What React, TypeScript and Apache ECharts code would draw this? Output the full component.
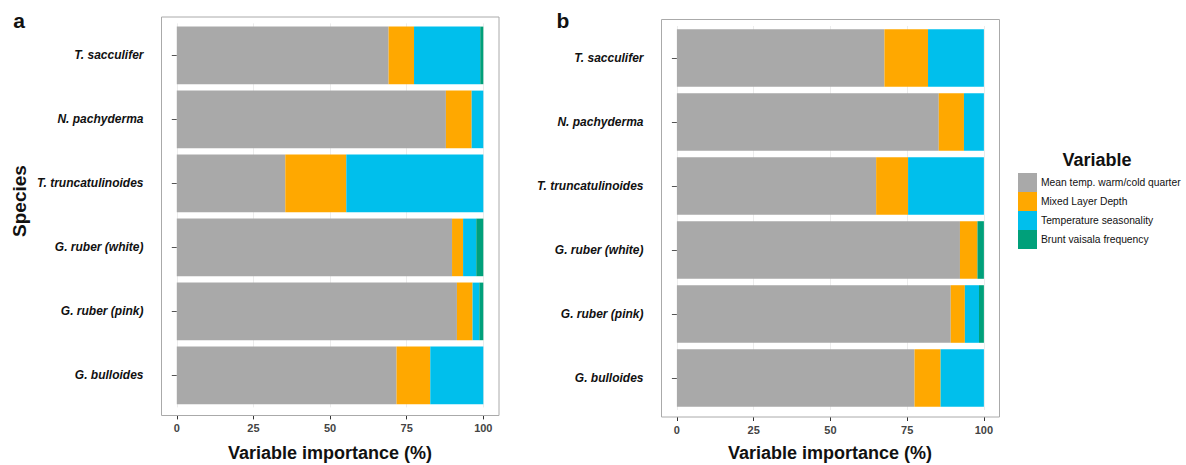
import React, { useEffect, useRef } from "react";
import * as echarts from "echarts";

const species = ["T. sacculifer", "N. pachyderma", "T. truncatulinoides", "G. ruber (white)", "G. ruber (pink)", "G. bulloides"];
const variables = ["Mean temp. warm/cold quarter", "Mixed Layer Depth", "Temperature seasonality", "Brunt vaisala frequency"];
const colors = ["#a9a9a9", "#ffa800", "#00bfec", "#00a07a"];
const xTicks = [0, 25, 50, 75, 100];

// panel a
const aMean = [69.1, 87.8, 35.4, 89.8, 91.4, 71.7];
const aMld = [8.3, 8.4, 19.9, 3.6, 5.1, 11.0];
const aTs = [21.6, 3.8, 44.7, 4.3, 2.2, 17.3];
const aBv = [1.0, 0, 0, 2.3, 1.3, 0];
// panel b
const bMean = [67.6, 85.3, 64.9, 92.2, 89.2, 77.4];
const bMld = [14.2, 8.2, 10.4, 5.7, 4.6, 8.5];
const bTs = [18.2, 6.5, 24.7, 0, 4.6, 14.1];
const bBv = [0, 0, 0, 2.1, 1.6, 0];

const FONT = "'Liberation Sans', Arial, Helvetica, sans-serif";

export default function App() {
  const ref = useRef<HTMLDivElement>(null);
  useEffect(() => {
    if (!ref.current) return;
    const chart = echarts.init(ref.current, null, { renderer: "svg" });
    const panels = [
      { grid: { left: 176.8, top: 23.4, width: 306.5, height: 384 }, rect: { x: 161.5, y: 17, width: 337.5, height: 398.5 }, xOff: 8, data: [aMean, aMld, aTs, aBv] },
      { grid: { left: 676.9, top: 26, width: 307, height: 384 }, rect: { x: 661.5, y: 19.5, width: 338, height: 397.5 }, xOff: 7, data: [bMean, bMld, bTs, bBv] },
    ];
    const series: any[] = [];
    panels.forEach((p, pi) => {
      p.data.forEach((vals, vi) => {
        series.push({
          type: "bar",
          name: variables[vi],
          stack: "s" + pi,
          xAxisIndex: pi,
          yAxisIndex: pi,
          data: vals,
          barCategoryGap: "10%",
          itemStyle: { color: colors[vi] },
        });
      });
    });
    chart.setOption({
      animation: false,
      grid: panels.map((p) => ({ ...p.grid, containLabel: false })),
      xAxis: panels.map((p, pi) => ({
        type: "value",
        gridIndex: pi,
        min: 0,
        max: 100,
        interval: 25,
        offset: p.xOff,
        axisLine: { show: false },
        axisTick: { show: true, length: 4, lineStyle: { color: "#333" } },
        axisLabel: { margin: 7, fontSize: 11, fontWeight: "bold", color: "#444", fontFamily: FONT, formatter: (v: number) => (xTicks.includes(v) ? String(v) : "") },
        splitLine: { show: true, lineStyle: { color: "#ececec", width: 1 } },
      })),
      yAxis: panels.map((p, pi) => ({
        type: "category",
        gridIndex: pi,
        data: species,
        inverse: true,
        offset: p.grid.left - p.rect.x,
        axisLine: { show: false },
        axisTick: { show: true, alignWithLabel: true, length: 5, lineStyle: { color: "#555" } },
        axisLabel: { margin: 18, fontSize: 12, fontWeight: "bold", fontStyle: "italic", color: "#111", fontFamily: FONT },
        splitLine: { show: false },
      })),
      legend: {
        orient: "vertical",
        left: 1018,
        top: 173,
        padding: 0,
        itemGap: 0,
        itemWidth: 19,
        itemHeight: 19,
        icon: "rect",
        data: variables,
        selectedMode: false,
        textStyle: { fontSize: 10.3, color: "#111", fontFamily: FONT, padding: [2, 0, 0, -1] },
      },
      graphic: [
        ...panels.map((p) => ({
          type: "rect",
          shape: { ...p.rect },
          style: { fill: "none", stroke: "#aaaaaa", lineWidth: 1 },
          z: 10,
        })),
        { type: "text", x: 330, y: 453, style: { text: "Variable importance (%)", font: `bold 18px ${FONT}`, fill: "#111", align: "center", verticalAlign: "middle" } },
        { type: "text", x: 830, y: 453, style: { text: "Variable importance (%)", font: `bold 18px ${FONT}`, fill: "#111", align: "center", verticalAlign: "middle" } },
        { type: "text", x: 19, y: 201, rotation: Math.PI / 2, style: { text: "Species", font: `bold 19px ${FONT}`, fill: "#111", align: "center", verticalAlign: "middle" } },
        { type: "text", x: 1097, y: 160, style: { text: "Variable", font: `bold 18px ${FONT}`, fill: "#111", align: "center", verticalAlign: "middle" } },
        { type: "text", x: 19, y: 20, style: { text: "a", font: `bold 21px ${FONT}`, fill: "#111", align: "center", verticalAlign: "middle" } },
        { type: "text", x: 563, y: 20, style: { text: "b", font: `bold 21px ${FONT}`, fill: "#111", align: "center", verticalAlign: "middle" } },
      ],
      series,
    });
    return () => chart.dispose();
  }, []);
  return <div ref={ref} style={{ position: "fixed", left: 0, top: 0, width: 1186, height: 465, background: "#fff" }} />;
}
